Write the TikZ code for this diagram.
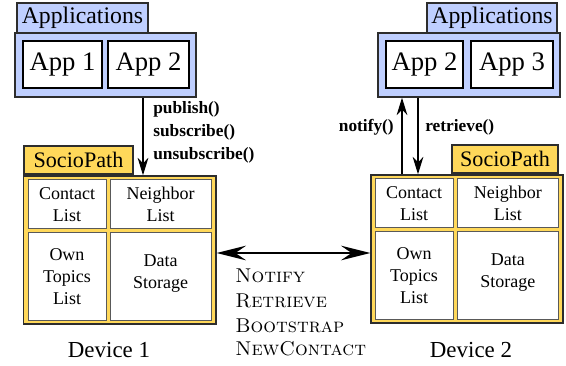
\documentclass[tikz,border=0pt]{standalone}
\usepackage{fontspec}
\newfontfamily\tnr{Liberation Serif}
\usetikzlibrary{arrows.meta,fit}
\definecolor{appblue}{RGB}{191,207,255}
\definecolor{spyellow}{RGB}{255,216,90}
\definecolor{edgec}{RGB}{45,45,45}
\begin{document}
\begin{tikzpicture}[x=0.75pt,y=-0.75pt,
  frame/.style={draw=edgec, line width=1.1pt, inner sep=0pt},
  bluebox/.style={frame, fill=appblue},
  yellowbox/.style={frame, fill=spyellow},
  applfont/.style={inner sep=0pt, font=\tnr\fontsize{17.8}{20}\selectfont},
  spfont/.style={inner sep=0pt, font=\tnr\fontsize{16.6}{20}\selectfont},
  appfont/.style={inner sep=0pt, font=\tnr\fontsize{20}{24}\selectfont},
  cellfont/.style={inner sep=0pt, align=center, font=\tnr\fontsize{13.5}{16.5}\selectfont},
  appbox/.style={draw=black, line width=1pt, fill=white, inner sep=0pt},
  cell/.style={draw=black!65, line width=0.75pt, fill=white, inner sep=0pt},
  method/.style={inner sep=0pt, font=\tnr\bfseries\fontsize{13}{17}\selectfont},
  devlbl/.style={inner sep=0pt, font=\tnr\fontsize{17.2}{20}\selectfont},
  msg/.style={inner sep=0pt, font=\fontsize{15}{18}\selectfont\scshape},
  varr/.style={line width=0.9pt, -{Stealth[length=13pt,width=8pt,inset=4pt]}},
  harr/.style={line width=1.2pt, {Stealth[length=22pt,width=11pt,inset=8pt]}-{Stealth[length=22pt,width=11pt,inset=8pt]}}
]
\useasboundingbox (0,0) rectangle (566,366);

% ---------- Left side ----------
\node[bluebox, fit={(17,3)(148,33)}, label={[applfont]center:Applications}] (applL) {};
\node[bluebox, fit={(15,33)(196,97)}] (appsL) {};
\node[appbox, fit={(23,41)(102,88)}, label={[appfont]center:App 1}] (app1L) {};
\node[appbox, fit={(108,41)(189,88)}, label={[appfont]center:App 2}] (app2L) {};

\node[yellowbox, fit={(24,146)(133,174)}, label={[spfont]center:SocioPath}] (spL) {};
\node[yellowbox, fit={(23.5,176)(216,324)}] (devL) {};
\node[cell, fit={(28,180)(106,229)}, label={[cellfont]center:Contact\\List}] (contactL) {};
\node[cell, fit={(110,180)(211,229)}, label={[cellfont]center:Neighbor\\List}] (neighL) {};
\node[cell, fit={(28,233)(106,320)}, label={[cellfont]center:Own\\Topics\\List}] (ownL) {};
\node[cell, fit={(110,233)(211,320)}, label={[cellfont,yshift=2pt]center:Data\\Storage}] (dataL) {};
\node[devlbl, anchor=base] (dev1) at (109,357) {Device 1};

\coordinate (pL) at (143,0);
\draw[varr] (appsL.south -| pL) -- (devL.north -| pL);
\node[method, anchor=base west] (pub) at (153,114) {publish()};
\node[method, anchor=base west] (sub) at (153,137) {subscribe()};
\node[method, anchor=base west] (unsub) at (153,160) {unsubscribe()};

% ---------- Right side ----------
\node[bluebox, fit={(427,3)(557,33)}, label={[applfont]center:Applications}] (applR) {};
\node[bluebox, fit={(378,33)(560,97)}] (appsR) {};
\node[appbox, fit={(386,41)(463,88)}, label={[appfont]center:App 2}] (app2R) {};
\node[appbox, fit={(471,41)(553,88)}, label={[appfont]center:App 3}] (app3R) {};

\node[yellowbox, fit={(452,145)(558,173)}, label={[spfont]center:SocioPath}] (spR) {};
\node[yellowbox, fit={(371,175)(563,323)}] (devR) {};
\node[cell, fit={(375,179)(453,228)}, label={[cellfont]center:Contact\\List}] (contactR) {};
\node[cell, fit={(457,179)(558.5,228)}, label={[cellfont]center:Neighbor\\List}] (neighR) {};
\node[cell, fit={(375,232)(453,319)}, label={[cellfont]center:Own\\Topics\\List}] (ownR) {};
\node[cell, fit={(457,232)(558.5,319)}, label={[cellfont,yshift=2pt]center:Data\\Storage}] (dataR) {};
\node[devlbl, anchor=base] (dev2) at (471,357) {Device 2};

\coordinate (pR1) at (402,0);
\coordinate (pR2) at (418,0);
\draw[varr] (devR.north -| pR1) -- (appsR.south -| pR1);
\draw[varr] (appsR.south -| pR2) -- (devR.north -| pR2);
\node[method, anchor=base east] (notify) at (394,132) {notify()};
\node[method, anchor=base west] (retrieve) at (425,132) {retrieve()};

% ---------- Between devices ----------
\coordinate (mid) at (0,253);
\draw[harr] (devL.east |- mid) -- (devR.west |- mid);
\node[msg, anchor=base west] (m1) at (235,282) {Notify};
\node[msg, anchor=base west] (m2) at (235,307) {Retrieve};
\node[msg, anchor=base west] (m3) at (235,332) {Bootstrap};
\node[msg, anchor=base west] (m4) at (235,355) {NewContact};
\end{tikzpicture}
\end{document}
